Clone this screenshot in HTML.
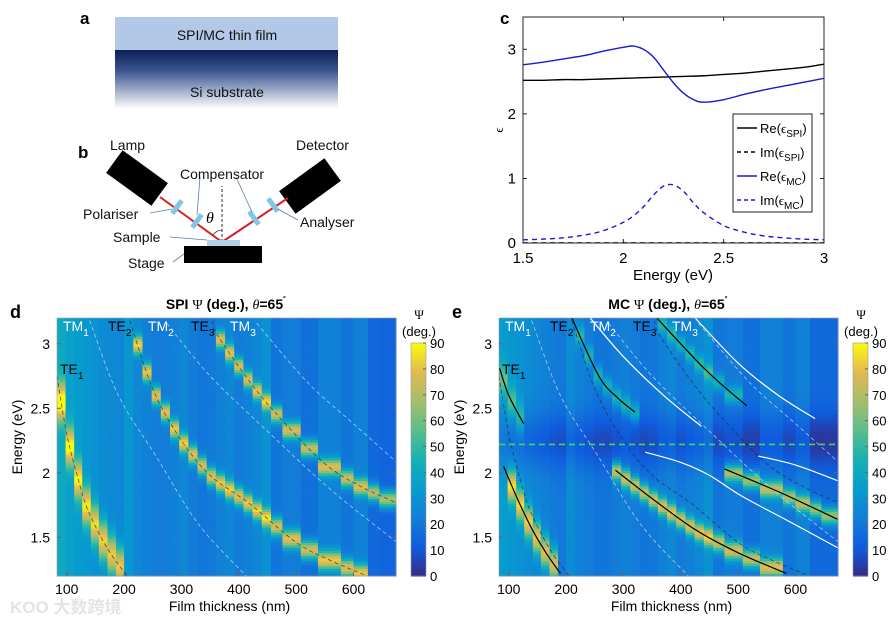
<!DOCTYPE html>
<html><head><meta charset="utf-8">
<style>
html,body{margin:0;padding:0;background:#fff;}
svg{display:block;font-family:"Liberation Sans","Noto Sans CJK SC",sans-serif;}
</style></head>
<body>
<svg id="fig" width="892" height="620" viewBox="0 0 892 620" xmlns="http://www.w3.org/2000/svg">
<defs>
<linearGradient id="subgrad" x1="0" y1="0" x2="0" y2="1">
<stop offset="0" stop-color="#0b1f55"/><stop offset="0.35" stop-color="#3a5590"/><stop offset="1" stop-color="#ffffff"/>
</linearGradient>
<clipPath id="clipD"><rect x="57" y="318" width="339" height="258"/></clipPath>
<clipPath id="clipE"><rect x="499" y="318" width="339" height="258"/></clipPath>
<clipPath id="clipC"><rect x="523" y="17" width="301" height="226"/></clipPath>
</defs>

<g>
<text x="80" y="24" font-size="17" font-weight="bold">a</text>
<rect x="115" y="17" width="223" height="34" fill="#b3c7e6"/>
<rect x="115" y="50" width="223" height="59" fill="url(#subgrad)"/>
<text x="227" y="40" font-size="14" text-anchor="middle" fill="#111">SPI/MC thin film</text>
<text x="227" y="97" font-size="14" text-anchor="middle" fill="#111">Si substrate</text>
</g>

<g>
<text x="78" y="158" font-size="17" font-weight="bold">b</text>
<rect x="-28" y="-14" width="56" height="28" fill="#000" transform="translate(137,178) rotate(36)"/>
<rect x="-28" y="-14" width="56" height="28" fill="#000" transform="translate(310,186) rotate(-36)"/>
<polyline points="160,197 222,242 288,198" fill="none" stroke="#d92020" stroke-width="2"/>
<line x1="222" y1="242" x2="222" y2="186" stroke="#333" stroke-width="1" stroke-dasharray="3,2"/>
<path d="M213,235 A12,12 0 0 1 222,230" fill="none" stroke="#333" stroke-width="0.8"/>
<text x="206" y="223" font-size="16" font-style="italic" font-family="Liberation Serif,serif">θ</text>
<rect x="-8" y="-2.5" width="16" height="5" fill="#7ec8e3" transform="translate(177,207) rotate(-54)"/>
<rect x="-8" y="-2.5" width="16" height="5" fill="#7ec8e3" transform="translate(197,221) rotate(-54)"/>
<rect x="-8" y="-2.5" width="16" height="5" fill="#7ec8e3" transform="translate(254,218) rotate(54)"/>
<rect x="-8" y="-2.5" width="16" height="5" fill="#7ec8e3" transform="translate(273,205) rotate(54)"/>
<rect x="207" y="240" width="33" height="6" fill="#b3d3ea"/>
<rect x="184" y="246" width="78" height="17" fill="#000"/>
<g stroke="#5a7fa8" stroke-width="0.8" fill="none">
<line x1="150" y1="213" x2="172" y2="209"/><line x1="200" y1="177" x2="197" y2="215"/><line x1="236" y1="177" x2="252" y2="212"/><line x1="278" y1="209" x2="298" y2="220"/><line x1="170" y1="237" x2="207" y2="240"/><line x1="173" y1="262" x2="184" y2="254"/>
</g>
<g font-size="14" fill="#111">
<text x="110" y="150">Lamp</text>
<text x="296" y="150">Detector</text>
<text x="180" y="179">Compensator</text>
<text x="83" y="219">Polariser</text>
<text x="300" y="227">Analyser</text>
<text x="113" y="242">Sample</text>
<text x="128" y="268">Stage</text>
</g>
</g>

<g id="panelC">
<text x="500" y="24" font-size="17" font-weight="bold">c</text>
</g>

<g id="panelD">
<text x="10" y="318" font-size="18" font-weight="bold">d</text>
<text x="226" y="309" font-size="14" font-weight="bold" text-anchor="middle">SPI <tspan font-family="Liberation Serif,serif" font-weight="normal">Ψ</tspan> (deg.), <tspan font-family="Liberation Serif,serif" font-style="italic" font-weight="normal">θ</tspan>=65<tspan dy="-6" font-size="9">˚</tspan></text>
</g>
<g id="panelE">
<text x="452" y="318" font-size="18" font-weight="bold">e</text>
<text x="668" y="309" font-size="14" font-weight="bold" text-anchor="middle">MC <tspan font-family="Liberation Serif,serif" font-weight="normal">Ψ</tspan> (deg.), <tspan font-family="Liberation Serif,serif" font-style="italic" font-weight="normal">θ</tspan>=65<tspan dy="-6" font-size="9">˚</tspan></text>
</g>
<text x="10" y="613" font-size="17" fill="#e4e4e4" font-weight="bold">KOO 大数跨境</text>
</svg>

<script>
const NS = "http://www.w3.org/2000/svg";
const cEnergySpi = [1.5,1.6,1.7,1.8,1.9,2.0,2.1,2.2,2.3,2.4,2.5,2.6,2.7,2.8,2.9,3.0];
const cReSpi = [2.52,2.52,2.53,2.53,2.54,2.55,2.56,2.57,2.58,2.59,2.61,2.63,2.66,2.69,2.72,2.77];
const cImSpi = [0,0,0,0,0,0,0,0,0,0,0,0,0,0,0,0];
const cEnergyMc = [1.5,1.6,1.7,1.8,1.9,2.0,2.05,2.1,2.15,2.2,2.25,2.3,2.35,2.4,2.5,2.6,2.7,2.8,2.9,3.0];
const cReMc = [2.76,2.80,2.85,2.90,2.97,3.03,3.05,3.00,2.88,2.68,2.48,2.32,2.22,2.18,2.22,2.30,2.37,2.43,2.49,2.55];
const cImMc = [0.05,0.06,0.08,0.12,0.19,0.32,0.42,0.56,0.74,0.88,0.90,0.80,0.62,0.47,0.27,0.17,0.11,0.08,0.06,0.05];
const cXTicks = [1.5,2,2.5,3];
const cYTicks = [0,1,2,3];

const colEdges = [83,98,113,127,142,156,171,186,200,216,232,248,264,280,296,312,328,344,360,376,392,408,424,440,456,476,508,538,578,600,625,645,674];
const bgD = [40,36,34,32,30,28,27,26,32,26,24,22,22,24,26,22,20,21,24,26,22,24,26,30,20,22,18,24,20,24,16,14];
const bgE = [34,32,30,28,26,24,22,21,28,24,22,20,20,22,24,22,20,21,24,26,22,24,26,30,20,22,18,24,20,24,16,16];
const teD1 = [[83,2.75],[100,2.3],[120,1.95],[137,1.71],[170,1.42],[205,1.2]];
const teD2 = [[210,3.18],[250,2.65],[297,2.27],[350,1.98],[419,1.76],[500,1.46],[560,1.32],[624,1.2]];
const teD3 = [[355,3.18],[361,3.08],[420,2.7],[477,2.40],[550,2.07],[610,1.9],[673,1.77]];
const tmD1 = [[140,3.18],[190,2.6],[257,2.12],[330,1.6],[413,1.2]];
const tmD2 = [[274,3.16],[350,2.75],[448,2.33],[560,1.87],[673,1.47]];
const tmD3 = [[431,3.16],[520,2.7],[600,2.38],[673,2.09]];
const teE1a = [[84,2.81],[100,2.6],[126,2.38]];
const teE1b = [[91,2.05],[115,1.8],[141,1.56],[165,1.38],[190,1.22]];
const teE2a = [[210,3.2],[257,2.75],[290,2.58],[320,2.47]];
const teE2b = [[286,2.02],[350,1.8],[425,1.56],[500,1.38],[584,1.22]];
const teE3a = [[358,3.2],[436,2.83],[480,2.65],[515,2.52]];
const teE3b = [[476,2.03],[530,1.93],[587,1.82],[673,1.64]];
const tmE2a = [[242,3.2],[300,2.9],[370,2.6],[436,2.36]];
const tmE2b = [[338,2.16],[400,2.08],[450,1.98],[506,1.82],[590,1.62],[673,1.42]];
const tmE3a = [[425,3.2],[500,2.85],[570,2.6],[634,2.42]];
const tmE3b = [[535,2.13],[600,2.06],[673,1.94]];
const dipEnergyE = 2.25;
const cbTicks = [0,10,20,30,40,50,60,70,80,90];
const xTicksDE = [100,200,300,400,500,600];
const yTicksDE = [1.5,2,2.5,3];

function el(tag, attrs, parent){ const e=document.createElementNS(NS,tag); for(const k in attrs) e.setAttribute(k,attrs[k]); parent.appendChild(e); return e; }
function smooth(pts){ // catmull-rom path
  if(pts.length<3) return 'M'+pts.map(p=>p[0]+','+p[1]).join(' L');
  let d='M'+pts[0][0]+','+pts[0][1];
  for(let i=0;i<pts.length-1;i++){
    const p0=pts[Math.max(0,i-1)],p1=pts[i],p2=pts[i+1],p3=pts[Math.min(pts.length-1,i+2)];
    const c1=[p1[0]+(p2[0]-p0[0])/6,p1[1]+(p2[1]-p0[1])/6], c2=[p2[0]-(p3[0]-p1[0])/6,p2[1]-(p3[1]-p1[1])/6];
    d+=' C'+c1[0]+','+c1[1]+' '+c2[0]+','+c2[1]+' '+p2[0]+','+p2[1];
  }
  return d;
}

(function(){
  const g=document.getElementById('panelC');
  const X0=523,X1=824,Y0=243,Y1=17;
  const xs=v=>X0+(v-1.5)/1.5*(X1-X0);
  const ys=v=>Y0-v/3.5*(Y0-Y1);
  const box=el('rect',{x:X0,y:Y1,width:X1-X0,height:Y0-Y1,fill:'#fff',stroke:'#222','stroke-width':1},g);
  
  
  cXTicks.forEach(t=>{
    el('line',{x1:xs(t),x2:xs(t),y1:Y0,y2:Y0-4,stroke:'#222'},g);
    el('line',{x1:xs(t),x2:xs(t),y1:Y1,y2:Y1+4,stroke:'#222'},g);
    const tx=el('text',{x:xs(t),y:263,'font-size':15,'text-anchor':'middle'},g); tx.textContent=t;
    
    
  });
  cYTicks.forEach(t=>{
    el('line',{x1:X0,x2:X0+4,y1:ys(t),y2:ys(t),stroke:'#222'},g);
    el('line',{x1:X1,x2:X1-4,y1:ys(t),y2:ys(t),stroke:'#222'},g);
    const tx=el('text',{x:516,y:ys(t)+5,'font-size':15,'text-anchor':'end'},g); tx.textContent=t;
    
    
  });
  const xl=el('text',{x:673,y:280,'font-size':15,'text-anchor':'middle'},g); xl.textContent='Energy (eV)';
  
  
  const yl=el('text',{x:0,y:0,'font-size':13,'text-anchor':'middle',transform:'translate(503,130) rotate(-90)','font-family':'Liberation Serif,serif'},g); yl.textContent='ϵ';
  
  
  const series=[[cEnergySpi,cReSpi,'#000',''],[cEnergySpi,cImSpi,'#000','5,4'],[cEnergyMc,cReMc,'#1a1ad0',''],[cEnergyMc,cImMc,'#1a1ad0','5,4']];
  const names=['line-re-spi','line-im-spi','line-re-mc','line-im-mc'];
  series.forEach((s,i)=>{
    const p=el('path',{d:smooth(s[0].map((e,j)=>[xs(e),ys(s[1][j])])),fill:'none',stroke:s[2],'stroke-width':1.4,'stroke-dasharray':s[3],'clip-path':'url(#clipC)'},g);
    
    
  });
  const lg=el('g',{},g);
  
  
  el('rect',{x:733,y:114,width:79,height:98,fill:'#fff',stroke:'#222'},lg);
  const labs=[['SPI','#000',''],['SPI','#000','4,3'],['MC','#1a1ad0',''],['MC','#1a1ad0','4,3']];
  ['Re','Im','Re','Im'].forEach((r,i)=>{
    const y=128+i*24;
    el('line',{x1:737,x2:757,y1:y,y2:y,stroke:labs[i][1],'stroke-width':1.4,'stroke-dasharray':labs[i][2]},lg);
    const t=el('text',{x:760,y:y+5,'font-size':13},lg);
    t.innerHTML=r+'(<tspan font-family="Liberation Serif,serif">ϵ</tspan><tspan dy="4" font-size="10">'+labs[i][0]+'</tspan><tspan dy="-4">)</tspan>';
    
    
  });
})();

const parula=[[53,42,135],[15,92,221],[18,125,216],[7,156,207],[21,177,180],[89,189,140],[165,190,107],[225,185,82],[249,251,14]];
function cmap(v){ let t=Math.max(0,Math.min(1,v/90))*8; const i=Math.min(7,Math.floor(t)); const f=t-i; const a=parula[i],b=parula[i+1];
  return 'rgb('+a.map((c,k)=>Math.round(c+(b[k]-c)*f)).join(',')+')'; }
function interp(curve,d){ if(d<curve[0][0]||d>curve[curve.length-1][0]) return null;
  for(let i=0;i<curve.length-1;i++){ const a=curve[i],b=curve[i+1]; if(d>=a[0]&&d<=b[0]) return a[1]+(b[1]-a[1])*(d-a[0])/(b[0]-a[0]); } return null; }

function heatPanel(gid, X0, bg, peakCurves, isMC, dashBlack, dashWhite, solidBlack, solidWhite, labels, clip){
  const g=document.getElementById(gid);
  const Y0=318,H=258,W=339,dmin=83,dmax=674,Emax=3.2,Emin=1.2;
  const xs=d=>X0+(d-dmin)/(dmax-dmin)*W;
  const ys=E=>Y0+(Emax-E)/(Emax-Emin)*H;
  const hg=el('g',{},g);
  
  
  const rows=100, dE=(Emax-Emin)/rows;
  for(let c=0;c<colEdges.length-1;c++){
    const dc=(colEdges[c]+colEdges[c+1])/2;
    const peaks=peakCurves.map(pc=>[interp(pc[0],dc),pc[1],pc[2]]).filter(p=>p[0]!==null);
    for(let r=0;r<rows;r++){
      const E=Emin+(r+0.5)*dE;
      let v=bg[c];
      if(isMC) v-=13*Math.exp(-Math.pow((E-dipEnergyE)/0.22,2));
      peaks.forEach(p=>{ let amp=p[1]; if(isMC && E>2.2) amp*=0.45; v+=amp*Math.exp(-Math.pow((E-p[0])/p[2],2)); });
      const rc=el('rect',{x:xs(colEdges[c]),y:ys(E+dE/2),width:xs(colEdges[c+1])-xs(colEdges[c])+0.5,height:H/rows+0.5,fill:cmap(v)},hg);
      
      
    }
  }
  const lines=el('g',{'clip-path':clip},g);
  
  
  const draw=(cs,col,dash,w,name)=>cs.forEach(cv=>{
    const p=el('path',{d:smooth(cv.map(q=>[xs(q[0]),ys(q[1])])),fill:'none',stroke:col,'stroke-width':w,'stroke-dasharray':dash,opacity:dash?0.75:1},lines);
    
    
  });
  draw(dashBlack,'#1a2a40','4,3',0.8,'te-mode-dashed');
  draw(dashWhite,'#dde8f8','4,3',0.8,'tm-mode-dashed');
  draw(solidBlack,'#000','',1.2,'te-mode-solid');
  draw(solidWhite,'#fff','',1.2,'tm-mode-solid');
  if(isMC){ const gl=el('line',{x1:X0,x2:X0+W,y1:ys(2.22),y2:ys(2.22),stroke:'#3ed66a','stroke-width':1.6,'stroke-dasharray':'6,4'},g);
    
     }
  el('rect',{x:X0,y:Y0,width:W,height:H,fill:'none',stroke:'#999','stroke-width':0.6},g);
  labels.forEach(L=>{ const t=el('text',{x:X0+L[1],y:L[2],'font-size':14,fill:L[3]},g);
    t.innerHTML=L[0]+'<tspan dy="5" font-size="10">'+L[4]+'</tspan>';
    
     });
  xTicksDE.forEach(t=>{ el('line',{x1:xs(t),x2:xs(t),y1:Y0+H,y2:Y0+H-4,stroke:'#666'},g);
    const tx=el('text',{x:xs(t),y:594,'font-size':14,'text-anchor':'middle'},g); tx.textContent=t;
    
     });
  yTicksDE.forEach(t=>{ el('line',{x1:X0,x2:X0+4,y1:ys(t),y2:ys(t),stroke:'#666'},g);
    el('line',{x1:X0+W,x2:X0+W-4,y1:ys(t),y2:ys(t),stroke:'#666'},g);
    const tx=el('text',{x:X0-7,y:ys(t)+5,'font-size':14,'text-anchor':'end'},g); tx.textContent=t;
    
     });
  const xl=el('text',{x:X0+W/2+3,y:611,'font-size':14,'text-anchor':'middle'},g); xl.textContent='Film thickness (nm)';
  
  
  const yl=el('text',{x:0,y:0,'font-size':14,'text-anchor':'middle',transform:'translate('+(X0-35)+','+(Y0+H/2-10)+') rotate(-90)'},g); yl.textContent='Energy (eV)';
  
  
  const CX=X0+354, CY0=343, CY1=576;
  const cb=el('g',{},g);
  
  
  for(let i=0;i<90;i++){ el('rect',{x:CX,y:CY1-(i+1)/90*(CY1-CY0),width:15,height:(CY1-CY0)/90+0.6,fill:cmap(i+0.5)},cb); }
  el('rect',{x:CX,y:CY0,width:15,height:CY1-CY0,fill:'none',stroke:'#999','stroke-width':0.6},cb);
  cbTicks.forEach(t=>{ const y=CY1-t/90*(CY1-CY0);
    el('line',{x1:CX+15,x2:CX+12,y1:y,y2:y,stroke:'#666'},cb);
    const tx=el('text',{x:CX+19,y:y+5,'font-size':13},cb); tx.textContent=t;
    
     });
  const ct=el('text',{x:CX+8,y:319,'font-size':13,'text-anchor':'middle','font-family':'Liberation Serif,serif'},cb); ct.textContent='Ψ';
  
  
  const ct2=el('text',{x:CX+8,y:336,'font-size':13,'text-anchor':'middle'},cb); ct2.textContent='(deg.)';
  
  
}

const labelsD=[['TM',6,331,'#fff','1'],['TE',51,331,'#000','2'],['TM',91,331,'#fff','2'],['TE',134,331,'#000','3'],['TM',173,331,'#fff','3'],['TE',3,374,'#000','1']];
heatPanel('panelD',57,bgD,[[teD1,55,0.15],[teD2,58,0.07],[teD3,55,0.065]],false,[teD1,teD2,teD3],[tmD1,tmD2,tmD3],[],[],labelsD,'url(#clipD)');
heatPanel('panelE',499,bgE,[[teE1a,55,0.12],[teE1b,55,0.12],[teE2a,55,0.07],[teE2b,55,0.07],[teE3a,55,0.065],[teE3b,50,0.065]],true,[teD1,teD2,teD3],[tmD1,tmD2,tmD3],[teE1a,teE1b,teE2a,teE2b,teE3a,teE3b],[tmE2a,tmE2b,tmE3a,tmE3b],labelsD,'url(#clipE)');
</script>
</body></html>
